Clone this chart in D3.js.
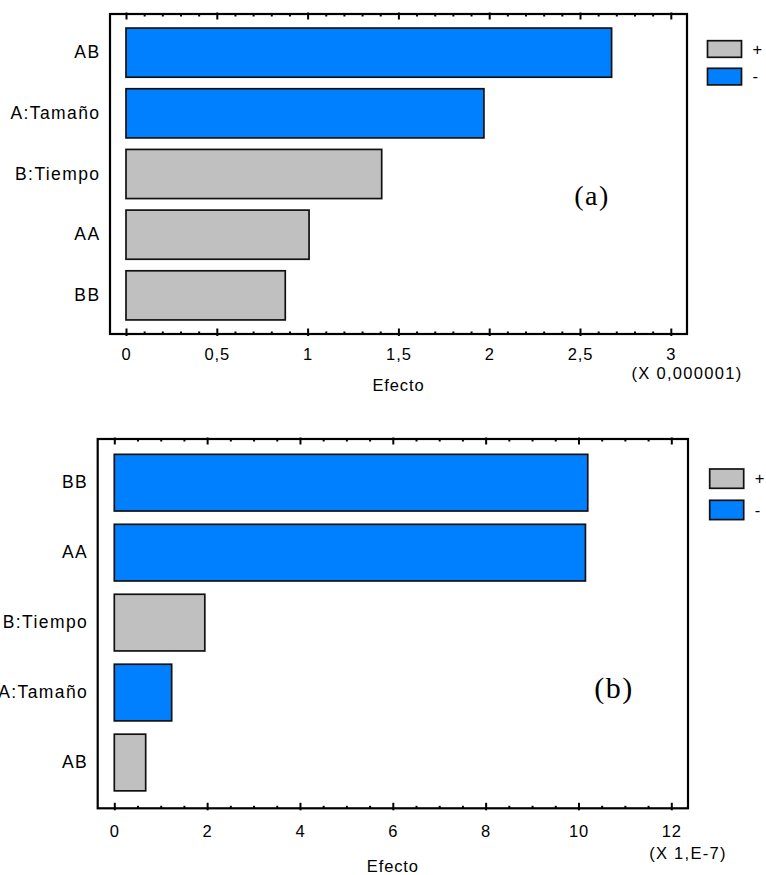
<!DOCTYPE html>
<html>
<head>
<meta charset="utf-8">
<script src="https://cdn.jsdelivr.net/npm/d3@7"></script>
<style>
  body { margin: 0; background: #fff; }
  text { font-family: "Liberation Sans", Arial, sans-serif; fill: #000; }
  text.tag { font-family: "Liberation Serif", "Times New Roman", serif; }
</style>
</head>
<body>
<div id="chart"></div>
<script>
// panel (a)
const categoriesA = ["AB", "A:Tamaño", "B:Tiempo", "AA", "BB"];
const valuesA = [2.674, 1.971, 1.408, 1.008, 0.877];
const signsA = ["-", "-", "+", "+", "+"];
const ticksA = [0, 0.5, 1, 1.5, 2, 2.5, 3];
const tickLabelsA = ["0", "0,5", "1", "1,5", "2", "2,5", "3"];
const minorStepA = 0.1;
const multiplierA = "(X 0,000001)";

// panel (b)
const categoriesB = ["BB", "AA", "B:Tiempo", "A:Tamaño", "AB"];
const valuesB = [10.2, 10.15, 1.95, 1.236, 0.676];
const signsB = ["-", "-", "+", "-", "+"];
const ticksB = [0, 2, 4, 6, 8, 10, 12];
const tickLabelsB = ["0", "2", "4", "6", "8", "10", "12"];
const minorStepB = 0.5;
const multiplierB = "(X 1,E-7)";

const legendLabels = ["+", "-"];
const axisTitle = "Efecto";
const color = { "+": "#c0c0c0", "-": "#0080ff" };

const svg = d3.select("#chart").append("svg")
  .attr("width", 766)
  .attr("height", 875);

function drawPanel(o) {
  const g = svg.append("g");
  const data = o.cats.map((c, i) => ({ cat: c, val: o.vals[i], sign: o.signs[i] }));

  const x = d3.scaleLinear()
    .domain([0, o.ticks[o.ticks.length - 1]])
    .range([o.x0, o.x1]);
  const y = d3.scaleBand()
    .domain(o.cats)
    .range([o.top + o.inTop, o.bottom - o.inBot])
    .paddingInner(0.19)
    .paddingOuter(0.095);

  // bars
  g.selectAll(".bar")
    .data(data)
    .join("rect")
    .attr("class", "bar")
    .attr("x", x(0))
    .attr("y", d => y(d.cat))
    .attr("width", d => x(d.val) - x(0))
    .attr("height", y.bandwidth())
    .attr("fill", d => color[d.sign])
    .attr("stroke", "#111")
    .attr("stroke-width", 1.7);

  // frame
  g.append("rect")
    .attr("x", o.left)
    .attr("y", o.top)
    .attr("width", o.right - o.left)
    .attr("height", o.bottom - o.top)
    .attr("fill", "none")
    .attr("stroke", "#000")
    .attr("stroke-width", 2.2);

  const minor = d3.range(0, x.domain()[1] + 1e-9, o.minorStep)
    .filter(v => !o.ticks.some(t => Math.abs(t - v) < 1e-9));

  // minor ticks bottom / top
  const minB = g.append("g").attr("transform", `translate(0,${o.bottom})`)
    .call(d3.axisBottom(x).tickValues(minor).tickSize(-2.5).tickFormat(""));
  const minT = g.append("g").attr("transform", `translate(0,${o.top})`)
    .call(d3.axisTop(x).tickValues(minor).tickSize(-2.5).tickFormat(""));

  // major ticks bottom with labels
  const majB = g.append("g").attr("transform", `translate(0,${o.bottom})`)
    .call(d3.axisBottom(x).tickValues(o.ticks).tickSize(-5.5)
      .tickFormat((d, i) => o.tickLabels[i]));
  majB.selectAll("line").attr("y1", 2);
  majB.selectAll("text")
    .attr("y", o.tickDy)
    .attr("dy", "0.35em")
    .attr("font-size", 16.5)
    .attr("letter-spacing", 0.9);

  const majT = g.append("g").attr("transform", `translate(0,${o.top})`)
    .call(d3.axisTop(x).tickValues(o.ticks).tickSize(-5.5).tickFormat(""));
  majT.selectAll("line").attr("y1", -1.5);

  [minB, minT, majB, majT].forEach(a => {
    a.select(".domain").remove();
    a.selectAll("line").attr("stroke", "#000").attr("stroke-width", 2);
  });

  // category labels
  const yAx = g.append("g").attr("transform", `translate(${o.left},0)`)
    .call(d3.axisLeft(y).tickSize(0).tickPadding(9.5));
  yAx.select(".domain").remove();
  yAx.selectAll("text")
    .attr("font-size", 17.5)
    .attr("letter-spacing", 1.4);

  // axis title and multiplier
  g.append("text")
    .attr("x", (o.left + o.right) / 2)
    .attr("y", o.bottom + o.titleDy)
    .attr("dy", "0.35em")
    .attr("text-anchor", "middle")
    .attr("font-size", 16.5)
    .attr("letter-spacing", 0.9)
    .text(axisTitle);
  g.append("text")
    .attr("x", o.right)
    .attr("y", o.bottom + o.multDy)
    .attr("dy", "0.35em")
    .attr("text-anchor", "middle")
    .attr("font-size", 16.5)
    .attr("letter-spacing", 1.3)
    .text(o.multiplier);

  // panel tag
  g.append("text")
    .attr("class", "tag")
    .attr("x", o.tagX)
    .attr("y", o.tagY)
    .attr("text-anchor", "middle")
    .attr("font-size", o.tagSize)
    .attr("letter-spacing", 1.5)
    .text(o.tag);

  // legend
  const leg = g.selectAll(".leg")
    .data(legendLabels)
    .join("g")
    .attr("class", "leg")
    .attr("transform", (d, i) => `translate(${o.legX},${o.legY + i * o.legStep})`);
  leg.append("rect")
    .attr("width", o.legW)
    .attr("height", o.legH)
    .attr("fill", d => color[d])
    .attr("stroke", "#111")
    .attr("stroke-width", 1.7);
  leg.append("text")
    .attr("x", o.legW + 11)
    .attr("y", o.legH / 2)
    .attr("dy", "0.35em")
    .attr("font-size", 16.5)
    .text(d => d);
}

drawPanel({
  cats: categoriesA, vals: valuesA, signs: signsA,
  ticks: ticksA, tickLabels: tickLabelsA, minorStep: minorStepA, multiplier: multiplierA,
  left: 110, right: 687, top: 14, bottom: 334,
  x0: 126, x1: 670.8, inTop: 8.3, inBot: 8.3,
  tickDy: 20, titleDy: 51, multDy: 39.5,
  tag: "(a)", tagX: 592, tagY: 205, tagSize: 28,
  legX: 707.5, legY: 40.7, legW: 34, legH: 16.6, legStep: 27.6
});

drawPanel({
  cats: categoriesB, vals: valuesB, signs: signsB,
  ticks: ticksB, tickLabels: tickLabelsB, minorStep: minorStepB, multiplier: multiplierB,
  left: 97.7, right: 688, top: 439, bottom: 808.3,
  x0: 114.3, x1: 671.3, inTop: 8.7, inBot: 10.8,
  tickDy: 23.4, titleDy: 58.4, multDy: 45,
  tag: "(b)", tagX: 614, tagY: 698, tagSize: 30,
  legX: 709.7, legY: 469, legW: 34, legH: 19.3, legStep: 31.3
});
</script>
</body>
</html>
